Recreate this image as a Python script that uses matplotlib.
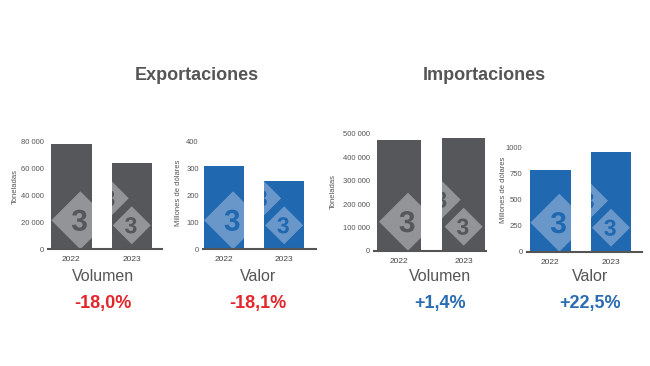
import matplotlib
matplotlib.use('Agg')
import matplotlib.pyplot as plt
from matplotlib.ticker import FuncFormatter
from matplotlib.patches import Polygon, PathPatch
from matplotlib.textpath import TextPath
from matplotlib.font_manager import FontProperties
from matplotlib.transforms import Affine2D, ScaledTranslation

plt.rcParams['font.family'] = ['Liberation Sans', 'DejaVu Sans']

years = ['2022', '2023']
exp_volumen = [77800, 63800]
exp_valor = [307, 251]
imp_volumen = [475000, 481700]
imp_valor = [780, 955]

titles = ['Exportaciones', 'Importaciones']
subtitles = ['Volumen', 'Valor', 'Volumen', 'Valor']
cambios = ['-18,0%', '-18,1%', '+1,4%', '+22,5%']
ylabels = ['Toneladas', 'Millones de dólares', 'Toneladas', 'Millones de dólares']
yticks = [[0, 20000, 40000, 60000, 80000],
          [0, 100, 200, 300, 400],
          [0, 100000, 200000, 300000, 400000, 500000],
          [0, 250, 500, 750, 1000]]

GRIS = '#55575b'
AZUL = '#2068b0'
ROJO = '#e3262c'
AZUL_TXT = '#2a6cb0'
LOGO = {GRIS: '#939497', AZUL: '#6a97ca'}

W, H = 650, 366
fig = plt.figure(figsize=(6.5, 3.66), dpi=100)

# posiciones de los ejes en pixeles: izquierda, derecha, base, tope
cajas = [(48, 162, 249.3, 141), (203, 316, 249.3, 141),
         (374, 486, 250.7, 134), (526.7, 641.7, 251.7, 147.3)]
xlims = [(-0.386, 1.50), (-0.35, 1.53), (-0.386, 1.345), (-0.39, 1.506)]
ylab_pos = [(-0.26, 0.58), (-0.19, 0.52), (-0.33, 0.505), (-0.175, 0.59)]
texto_x = [103, 258, 440, 590]
datos = [exp_volumen, exp_valor, imp_volumen, imp_valor]
colores = [GRIS, AZUL, GRIS, AZUL]
col_cambio = [ROJO, ROJO, AZUL_TXT, AZUL_TXT]

# marca de agua: (barra, dx px, dy px, semidiagonal px, tamaño del 3 px)
logo = [(0, 9, 29, 29, 30), (1, -22, 51, 19, 23), (1, 0, 24, 19, 23)]
fp = FontProperties(family='Liberation Sans', weight='bold')


def miles(v, pos):
    if v >= 10000:
        return '{:,.0f}'.format(v).replace(',', ' ')
    return '{:.0f}'.format(v)


for i in range(4):
    l, r, b, t = cajas[i]
    ax = fig.add_axes([l / W, 1 - b / H, (r - l) / W, (b - t) / H])
    barras = ax.bar([0, 1], datos[i], width=0.67, color=colores[i], zorder=2)
    ax.set_xlim(*xlims[i])
    ax.set_ylim(0, yticks[i][-1])
    ax.set_xticks([0, 1])
    ax.set_xticklabels(years)
    ax.set_yticks(yticks[i])
    ax.yaxis.set_major_formatter(FuncFormatter(miles))
    ax.tick_params(axis='y', length=0, labelsize=5.5, labelcolor='#555555', pad=3)
    ax.tick_params(axis='x', length=0, labelsize=6, labelcolor='#444444', pad=5)
    for s in ['left', 'right', 'top']:
        ax.spines[s].set_visible(False)
    ax.spines['bottom'].set_color('#555555')
    ax.spines['bottom'].set_linewidth(1.5)
    ax.spines['bottom'].set_zorder(5)
    ax.set_ylabel(ylabels[i], fontsize=5.5, color='#555555')
    ax.yaxis.set_label_coords(*ylab_pos[i])

    for k, dx, dy, s, fs in logo:
        bar = barras[k]
        base = ScaledTranslation(bar.get_x() + bar.get_width() / 2, 0, ax.transData)
        tr = Affine2D().translate(dx, dy) + base
        rombo = Polygon([(0, s), (s, 0), (0, -s), (-s, 0)], closed=True,
                        transform=tr, facecolor=LOGO[colores[i]],
                        edgecolor='none', zorder=3)
        ax.add_patch(rombo)
        rombo.set_clip_path(bar)
        tp = TextPath((0, 0), '3', size=fs, prop=fp)
        bb = tp.get_extents()
        tr3 = Affine2D().translate(-(bb.x0 + bb.x1) / 2, -(bb.y0 + bb.y1) / 2) \
            .translate(dx - 1, dy) + base
        tres = PathPatch(tp, transform=tr3, facecolor=colores[i],
                         edgecolor='none', zorder=4)
        ax.add_patch(tres)
        tres.set_clip_path(bar)

    fig.text(texto_x[i] / W, 1 - 276.7 / H, subtitles[i], ha='center', va='center',
             fontsize=11.5, color='#555555')
    fig.text(texto_x[i] / W, 1 - 303.5 / H, cambios[i], ha='center', va='center',
             fontsize=13, fontweight='bold', color=col_cambio[i])

fig.text(197 / W, 1 - 75 / H, titles[0], ha='center', va='center',
         fontsize=13, fontweight='bold', color='#555555')
fig.text(484.5 / W, 1 - 75 / H, titles[1], ha='center', va='center',
         fontsize=13, fontweight='bold', color='#555555')

fig.savefig('out.png', dpi=100)
